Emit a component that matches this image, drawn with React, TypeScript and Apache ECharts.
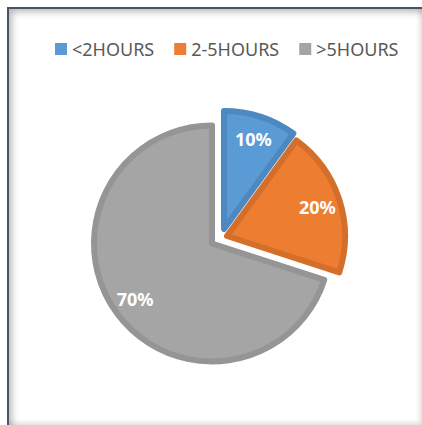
import React, { useEffect, useRef } from "react";
import * as echarts from "echarts";

const categories = ["<2HOURS", "2-5HOURS", ">5HOURS"];
const values = [10, 20, 70];
const fillColors = ["#5b9bd5", "#ed7d31", "#a5a5a5"];
const edgeColors = ["#4d88c0", "#d46f2b", "#959595"];
// exploded centre of each slice
const centers: [number, number][] = [
  [224, 229],
  [227, 236],
  [212, 243.5],
];

export default function App() {
  const ref = useRef<HTMLDivElement>(null);
  useEffect(() => {
    document.body.style.margin = "0";
    const chart = echarts.init(ref.current!, undefined, { renderer: "svg" });
    const shapeSeries = categories.map((_, i) => ({
      type: "pie",
      silent: true,
      center: centers[i],
      radius: 118,
      startAngle: 90,
      clockwise: true,
      label: { show: false },
      labelLine: { show: false },
      data: categories.map((name, j) => ({
        name,
        value: values[j],
        itemStyle:
          j === i
            ? { color: fillColors[j], borderColor: edgeColors[j], borderWidth: 6, borderJoin: "round" }
            : { color: "rgba(0,0,0,0)", borderWidth: 0 },
      })),
    }));
    const labelSeries = categories.map((_, i) => ({
      type: "pie",
      silent: true,
      center: centers[i],
      radius: [64, 120],
      startAngle: 90,
      clockwise: true,
      itemStyle: { color: "rgba(0,0,0,0)", borderWidth: 0 },
      labelLine: { show: false },
      data: categories.map((name, j) => ({
        name,
        value: values[j],
        label: {
          show: j === i,
          position: "inside",
          formatter: () => values[j] + "%",
          color: "#ffffff",
          fontFamily: "Noto Sans",
          fontWeight: "bold",
          fontSize: 18,
        },
      })),
    }));
    chart.setOption({
      animation: false,
      backgroundColor: "#ffffff",
      legend: {
        left: 50,
        top: 35,
        itemWidth: 12,
        itemHeight: 12,
        itemGap: 20,
        selectedMode: false,
        icon: "rect",
        textStyle: { color: "#595959", fontFamily: "Noto Sans", fontSize: 18 },
        data: categories.map((name, i) => ({
          name,
          itemStyle: { color: fillColors[i], borderWidth: 0 },
        })),
      },
      series: [...shapeSeries, ...labelSeries],
    });
    return () => chart.dispose();
  }, []);
  return (
    <div style={{ position: "absolute", left: 0, top: 0, width: 422, height: 425 }}>
      <div ref={ref} style={{ position: "absolute", left: 0, top: 0, width: 422, height: 425 }} />
      <div
        style={{
          position: "absolute",
          left: 7,
          top: 7,
          width: 413,
          height: 416,
          borderLeft: "2px solid #44546a",
          borderTop: "2px solid #44546a",
          boxShadow:
            "inset 6px 6px 7px -3px rgba(0,0,0,0.28), inset -4px -4px 5px -2px rgba(0,0,0,0.14)",
          pointerEvents: "none",
        }}
      />
    </div>
  );
}
